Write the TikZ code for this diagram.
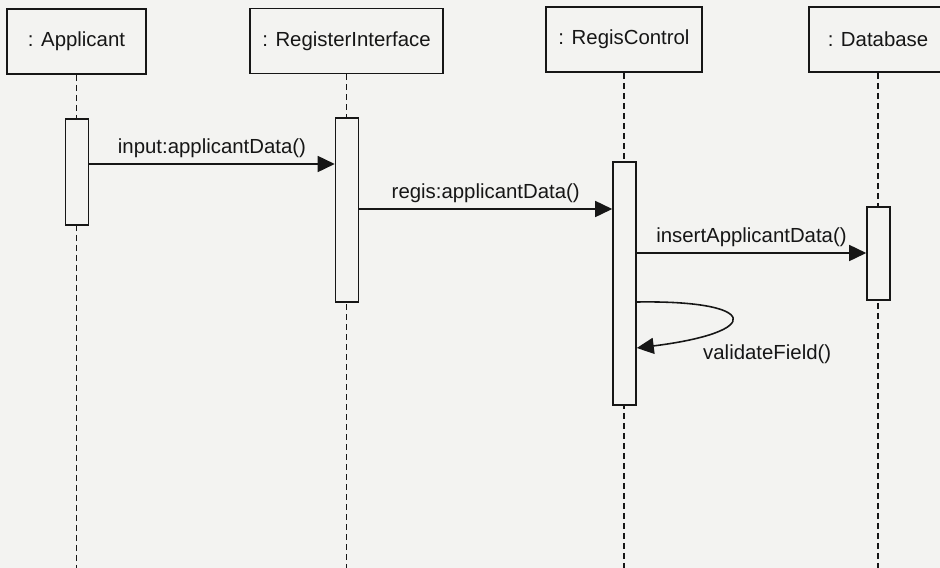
\documentclass[tikz,border=0pt]{standalone}
\usepackage{fontspec}
\setmainfont{Liberation Sans}
\usetikzlibrary{arrows.meta}
\definecolor{paperg}{RGB}{243,243,241}
\definecolor{inkk}{RGB}{22,22,22}
\tikzset{
    obj/.style={draw=inkk, line width=1pt, fill=paperg, minimum height=1.3cm, inner sep=0pt, text=inkk, font=\fontsize{11.6}{14}\selectfont},
    act/.style={draw=inkk, line width=0.9pt, fill=paperg, minimum width=0.46cm, inner sep=0pt},
    life/.style={draw=inkk, line width=1pt, dash pattern=on 0.12cm off 0.08cm},
    msg/.style={draw=inkk, line width=0.9pt, -{Triangle[length=0.34cm,width=0.32cm]}},
    lbl/.style={text=inkk, font=\fontsize{11.6}{14}\selectfont}
}

\begin{document}
\begin{tikzpicture}[x=0.02cm,y=-0.02cm]
                    \useasboundingbox[fill=paperg] (0,0) rectangle (940,568);
                    \node[obj, minimum width=2.78cm] (app) at (76.5,41.5) {: Applicant};
                    \node[obj, minimum width=3.86cm] (rif) at (346.5,41) {: RegisterInterface};
                    \node[obj, minimum width=3.12cm] (rc) at (624,39.5) {: RegisControl};
                    \node[obj, minimum width=2.76cm] (db) at (878,39.5) {: Database};
                    \coordinate (bottom) at (0,568);
                    \foreach \o in {app,rif,rc,db}
                        {\draw[life] (\o.south) -- (\o.south |- bottom);}
                    \node[act, minimum height=2.12cm] (aapp) at (77,172) {};
                    \node[act, minimum height=3.68cm] (arif) at (347,210) {};
                    \node[act, minimum height=4.86cm] (arc) at (624.5,283.5) {};
                    \node[act, minimum height=1.86cm] (adb) at (878.5,253.5) {};
                    \coordinate (m1) at (0,164);
                    \coordinate (m2) at (0,209);
                    \coordinate (m3) at (0,253);
                    \coordinate (m4) at (0,302);
                    \coordinate (m5) at (0,348);
                    \coordinate (c1) at (760,300);
                    \coordinate (c2) at (765,332);
                    \draw[msg] (aapp.east |- m1) -- node[lbl, above=0pt] {input:applicantData()} (arif.west |- m1);
                    \draw[msg] (arif.east |- m2) -- node[lbl, above=0pt] {regis:applicantData()} (arc.west |- m2);
                    \draw[msg] (arc.east |- m3) -- node[lbl, above=0pt] {insertApplicantData()} (adb.west |- m3);
                    \draw[msg] (arc.east |- m4) .. controls (c1) and (c2) .. (arc.east |- m5);
                    \node[lbl, anchor=west] (vf) at (697,354) {validateField()};
                \end{tikzpicture}
\end{document}
